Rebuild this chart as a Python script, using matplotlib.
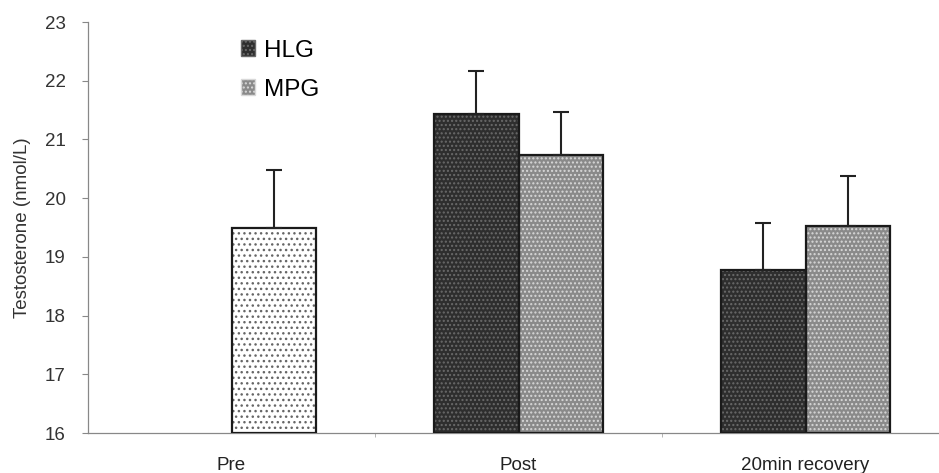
import matplotlib
matplotlib.use("Agg")
import matplotlib.pyplot as plt
from matplotlib.patches import Patch
import numpy as np

plt.rcParams['font.family'] = ['Liberation Sans', 'DejaVu Sans']
plt.rcParams['hatch.linewidth'] = 1.0

categories = ["Pre", "Post", "20min recovery"]
pre_value = 19.5
pre_err = 0.98
hlg_values = [np.nan, 21.43, 18.77]
hlg_err = [np.nan, 0.74, 0.80]
mpg_values = [np.nan, 20.73, 19.53]
mpg_err = [np.nan, 0.74, 0.85]
yticks = [16, 17, 18, 19, 20, 21, 22, 23]

W, H = 939, 473
fig = plt.figure(figsize=(W / 100, H / 100), dpi=100)
ax = fig.add_axes([88 / W, 1 - 433 / H, 861 / W, 411 / H])

x = np.arange(len(categories))
bw = 0.296
base = 16

def draw(xs, vals, errs, face, hatch_col, hatch):
    vals = np.asarray(vals, dtype=float)
    heights = vals - base
    ax.bar(xs, heights, bw, bottom=base, align='edge', color=face,
           edgecolor='none', linewidth=0, zorder=2)
    ax.bar(xs, heights, bw, bottom=base, align='edge', color='none',
           edgecolor=hatch_col, hatch=hatch, linewidth=0, zorder=3)
    ax.bar(xs, heights, bw, bottom=base, align='edge', color='none',
           edgecolor='#1a1a1a', linewidth=1.6, zorder=4)
    ax.errorbar(np.asarray(xs) + bw / 2, vals, yerr=[np.zeros_like(vals), errs],
                fmt='none', ecolor='#222222', elinewidth=1.5, capsize=6,
                capthick=1.5, zorder=5)

# Pre (single bar)
draw([x[0]], [pre_value], [pre_err], 'white', '#666666', '...')
# HLG
draw(x[1:] - bw, hlg_values[1:], hlg_err[1:], '#2e2e2e', '#6a6a6a', '....')
# MPG
draw(x[1:], mpg_values[1:], mpg_err[1:], '#8a8a8a', '#d8d8d8', '....')

ax.set_xlim(-0.5, 2.5)
ax.set_ylim(16, 23)
ax.set_yticks(yticks)
ax.set_yticklabels([str(t) for t in yticks], fontsize=13.5, color='#333333')
ax.set_xticks(x)
ax.set_xticklabels(categories, fontsize=13.5, color='#222222')
ax.set_xticks([0.5, 1.5], minor=True)
ax.tick_params(axis='x', which='major', length=0, pad=17)
ax.tick_params(axis='x', which='minor', direction='out', length=3, color='#aaaaaa')
ax.tick_params(axis='y', direction='out', length=4, color='#888888', pad=12)
for s in ['top', 'right']:
    ax.spines[s].set_visible(False)
for s in ['left', 'bottom']:
    ax.spines[s].set_color('#888888')
    ax.spines[s].set_linewidth(0.9)

ax.set_ylabel("Testosterone (nmol/L)", fontsize=13.5, color='#333333', labelpad=10)

handles = [Patch(facecolor='#2e2e2e', edgecolor='#6a6a6a', hatch='....', label='HLG'),
           Patch(facecolor='#8a8a8a', edgecolor='#d8d8d8', hatch='....', label='MPG')]
leg = ax.legend(handles=handles, loc='upper left', bbox_to_anchor=(0.152, 1.01),
                frameon=False, fontsize=17.5, handlelength=0.6, handleheight=0.6,
                handletextpad=0.35, labelspacing=0.7)

fig.savefig("out.png", dpi=100)
